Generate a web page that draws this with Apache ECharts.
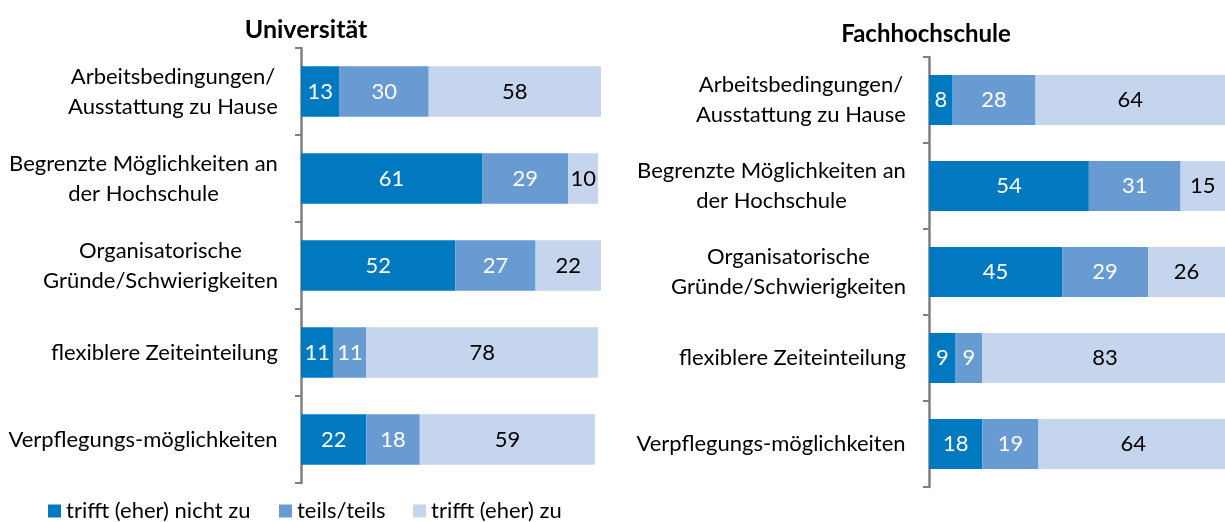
<!DOCTYPE html>
<html style="height: 100%">
<head>
  <meta charset="utf-8">
  <title>Universität / Fachhochschule</title>
</head>
<body style="height: 100%; margin: 0; background: #fff">
<div id="container" style="width: 1225px; height: 522px"></div>
<script src="https://cdn.jsdelivr.net/npm/echarts@6/dist/echarts.min.js"></script>
<script>
  // Kategorien (gleich in beiden Teilgrafiken)
  var categories = [
    'Arbeitsbedingungen/\nAusstattung zu Hause',
    'Begrenzte Möglichkeiten an\nder Hochschule',
    'Organisatorische\nGründe/Schwierigkeiten',
    'flexiblere Zeiteinteilung',
    'Verpflegungs-möglichkeiten'
  ];
  var seriesNames = ['trifft (eher) nicht zu', 'teils/teils', 'trifft (eher) zu'];

  // Universität
  var uniNicht = [13, 61, 52, 11, 22];
  var uniTeils = [30, 29, 27, 11, 18];
  var uniZu = [58, 10, 22, 78, 59];

  // Fachhochschule
  var fhNicht = [8, 54, 45, 9, 18];
  var fhTeils = [28, 31, 29, 9, 19];
  var fhZu = [64, 15, 26, 83, 64];

  var colors = ['#0079c1', '#689bd2', '#c6d5ee'];
  var labelColors = ['#ffffff', '#ffffff', '#000000'];
  var font = 'Lato';
  var catSize = 22;

  // Zeilen eines Labels zentriert untereinander, Block rechtsbündig an der Achse
  var ctx = document.createElement('canvas').getContext('2d');
  ctx.font = catSize + 'px ' + font;
  var rich = {};
  categories.forEach(function (c, i) {
    var w = Math.max.apply(null, c.split('\n').map(function (l) { return ctx.measureText(l).width; }));
    rich['c' + i] = { width: Math.ceil(w) + 2, align: 'center', fontFamily: font, fontSize: catSize, lineHeight: 30, color: '#000' };
  });

  // Legende: ein Eintrag pro Komponente, damit die Abstände wie im Original sind
  var legendLeft = [48, 279, 413];

  var dom = document.getElementById('container');
  var myChart = echarts.init(dom);

  function yAxisFor(gridIndex) {
    return {
      type: 'category',
      gridIndex: gridIndex,
      data: categories,
      inverse: true,
      axisLine: { show: true, lineStyle: { color: '#7f7f7f', width: 2.5 } },
      axisTick: { show: true, alignWithLabel: false, length: 6, lineStyle: { color: '#7f7f7f', width: 2 } },
      axisLabel: {
        align: 'right',
        margin: 22,
        rich: rich,
        formatter: function (v) {
          var i = categories.indexOf(v);
          return v.split('\n').map(function (l) { return '{c' + i + '|' + l + '}'; }).join('\n');
        }
      }
    };
  }

  function bar(name, data, idx, gridIndex) {
    return {
      name: name,
      type: 'bar',
      stack: 'g' + gridIndex,
      xAxisIndex: gridIndex,
      yAxisIndex: gridIndex,
      barWidth: '58%',
      clip: false,
      data: data,
      itemStyle: { color: colors[idx] },
      label: {
        show: true,
        position: 'inside',
        color: labelColors[idx],
        fontFamily: font,
        fontSize: 22
      }
    };
  }

  var option = {
    animation: false,
    title: [
      {
        text: 'Universität',
        left: 301, top: 12,
        textAlign: 'center',
        textStyle: { fontFamily: font, fontSize: 25, fontWeight: 'bold', color: '#000' }
      },
      {
        text: 'Fachhochschule',
        left: 921, top: 17,
        textAlign: 'center',
        textStyle: { fontFamily: font, fontSize: 24, fontWeight: 'bold', color: '#000' }
      }
    ],
    legend: seriesNames.map(function (name, i) {
      return {
        data: [name],
        left: legendLeft[i],
        top: 500,
        padding: 0,
        icon: 'rect',
        itemWidth: 13,
        itemHeight: 13,
        textStyle: { fontFamily: font, fontSize: 22, color: '#000' }
      };
    }),
    grid: [
      { left: 301, top: 48, width: 297, height: 435 },
      { left: 929, top: 57, width: 296, height: 430 }
    ],
    xAxis: [
      { type: 'value', gridIndex: 0, min: 0, max: 100, show: false },
      { type: 'value', gridIndex: 1, min: 0, max: 100, show: false }
    ],
    yAxis: [yAxisFor(0), yAxisFor(1)],
    series: [
      bar(seriesNames[0], uniNicht, 0, 0),
      bar(seriesNames[1], uniTeils, 1, 0),
      bar(seriesNames[2], uniZu, 2, 0),
      bar(seriesNames[0], fhNicht, 0, 1),
      bar(seriesNames[1], fhTeils, 1, 1),
      bar(seriesNames[2], fhZu, 2, 1)
    ]
  };

  myChart.setOption(option);
</script>
</body>
</html>
